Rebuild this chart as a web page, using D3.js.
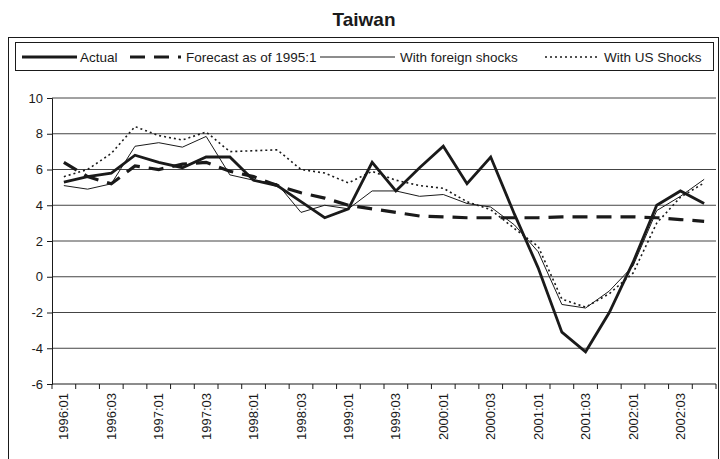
<!DOCTYPE html>
<html>
<head>
<meta charset="utf-8">
<script src="https://cdn.jsdelivr.net/npm/d3@7"></script>
<style>
  body { margin: 0; background: #fff; }
  svg { display: block; font-family: "Liberation Sans", Arial, sans-serif; }
</style>
</head>
<body>
<svg id="chart" width="720" height="459"></svg>
<script>
// quarters 1996:01 .. 2002:04
const years = [1996, 1997, 1998, 1999, 2000, 2001, 2002];
const quarters = [];
years.forEach(y => { for (let q = 1; q <= 4; q++) quarters.push(y + ":0" + q); });

const actual   = [5.3, 5.6, 5.8, 6.8, 6.4, 6.1, 6.7, 6.7, 5.4, 5.1, 4.2, 3.3, 3.8, 6.4,
                  4.8, 6.1, 7.3, 5.2, 6.7, 3.5, 0.5, -3.1, -4.2, -2.0, 0.8, 4.0, 4.8, 4.1];
const forecast = [6.4, 5.6, 5.2, 6.2, 6.0, 6.3, 6.4, 5.9, 5.6, 5.1, 4.7, 4.4, 4.0, 3.8,
                  3.6, 3.4, 3.35, 3.3, 3.3, 3.3, 3.3, 3.35, 3.35, 3.35, 3.35, 3.3, 3.2, 3.1];
const foreign  = [5.1, 4.9, 5.2, 7.3, 7.5, 7.25, 7.85, 5.7, 5.4, 5.2, 3.6, 4.0, 3.8, 4.8,
                  4.8, 4.5, 4.6, 4.1, 3.9, 2.9, 1.4, -1.55, -1.75, -0.8, 0.6, 3.7, 4.5, 5.45];
const usShocks = [5.6, 6.0, 6.9, 8.4, 7.9, 7.65, 8.1, 7.0, 7.05, 7.1, 6.0, 5.8, 5.25, 5.9,
                  5.4, 5.1, 4.95, 4.2, 3.75, 2.7, 1.7, -1.25, -1.7, -0.95, 0.2, 3.0, 4.45, 5.25];
const yTicks = [-6, -4, -2, 0, 2, 4, 6, 8, 10];

const series = [
  { name: "Actual", values: actual, width: 2.8, dash: null },
  { name: "Forecast as of 1995:1", values: forecast, width: 3.2, dash: "15,9" },
  { name: "With foreign shocks", values: foreign, width: 1, dash: null },
  { name: "With US Shocks", values: usShocks, width: 1.6, dash: "2,3" }
];

const svg = d3.select("#chart");
const ink = "#1a1a1a";

const plot = { left: 52, right: 716, top: 98, bottom: 384 };

let x = d3.scaleBand().domain(quarters).range([plot.left, plot.right]);
let y = d3.scaleLinear().domain([-6, 10]).range([plot.bottom, plot.top]);

// title
svg.append("text")
  .attr("x", 364).attr("y", 26)
  .attr("text-anchor", "middle")
  .attr("font-size", 19).attr("font-weight", "bold")
  .attr("fill", ink)
  .text("Taiwan");

// outer frame (bottom runs off the picture)
svg.append("rect")
  .attr("x", 8.5).attr("y", 37.5)
  .attr("width", 710).attr("height", 440)
  .attr("fill", "none").attr("stroke", ink);

// gridlines
svg.append("g")
  .selectAll("line")
  .data(yTicks.filter(d => d > -6))
  .join("line")
    .attr("x1", plot.left).attr("x2", plot.right)
    .attr("y1", d => y(d)).attr("y2", d => y(d))
    .attr("stroke", "#444").attr("stroke-width", 1);

// y axis
let yAxis = svg.append("g")
  .attr("transform", `translate(${plot.left},0)`)
  .call(d3.axisLeft(y).tickValues(yTicks).tickFormat(d => String(d)).tickSize(5).tickPadding(4));
yAxis.selectAll("text").attr("font-size", 13).attr("fill", ink);
yAxis.attr("font-family", null);
yAxis.selectAll("line, path").attr("stroke", ink);

// x axis, ticks between categories
let xAxis = svg.append("g")
  .attr("transform", `translate(0,${plot.bottom})`);
xAxis.append("line")
  .attr("x1", plot.left).attr("x2", plot.right)
  .attr("stroke", ink);
xAxis.selectAll("line.tick")
  .data(d3.range(quarters.length + 1))
  .join("line")
    .attr("class", "tick")
    .attr("x1", i => plot.left + i * x.step()).attr("x2", i => plot.left + i * x.step())
    .attr("y1", 0).attr("y2", 5)
    .attr("stroke", ink);
xAxis.selectAll("text")
  .data(quarters.filter((q, i) => i % 2 === 0))
  .join("text")
    .attr("transform", d => `translate(${x(d) + x.bandwidth() / 2},9) rotate(-90)`)
    .attr("text-anchor", "end")
    .attr("dy", "0.35em")
    .attr("font-size", 13)
    .attr("fill", ink)
    .text(d => d);

// lines
let line = d3.line()
  .x((d, i) => x(quarters[i]) + x.bandwidth() / 2)
  .y(d => y(d));

svg.append("g")
  .selectAll("path")
  .data(series)
  .join("path")
    .attr("d", d => line(d.values))
    .attr("fill", "none")
    .attr("stroke", ink)
    .attr("stroke-width", d => d.width)
    .attr("stroke-dasharray", d => d.dash)
    .attr("stroke-linejoin", "miter");

// legend
let lg = svg.append("g");
lg.append("rect")
  .attr("x", 15.5).attr("y", 42.5)
  .attr("width", 698).attr("height", 28)
  .attr("fill", "#fff").attr("stroke", ink);

// [line start, line end, text start] per entry
let keyPos = [[22, 77, 80], [130, 181, 186], [320, 395, 400], [545, 600, 604]];
let items = lg.selectAll("g.item").data(series).join("g").attr("class", "item");
items.append("line")
  .attr("x1", (d, i) => keyPos[i][0]).attr("x2", (d, i) => keyPos[i][1])
  .attr("y1", 57).attr("y2", 57)
  .attr("stroke", ink)
  .attr("stroke-width", d => d.width)
  .attr("stroke-dasharray", d => d.dash);
items.append("text")
  .attr("x", (d, i) => keyPos[i][2])
  .attr("y", 61.5)
  .attr("font-size", 13.5)
  .attr("fill", ink)
  .text(d => d.name);
</script>
</body>
</html>
